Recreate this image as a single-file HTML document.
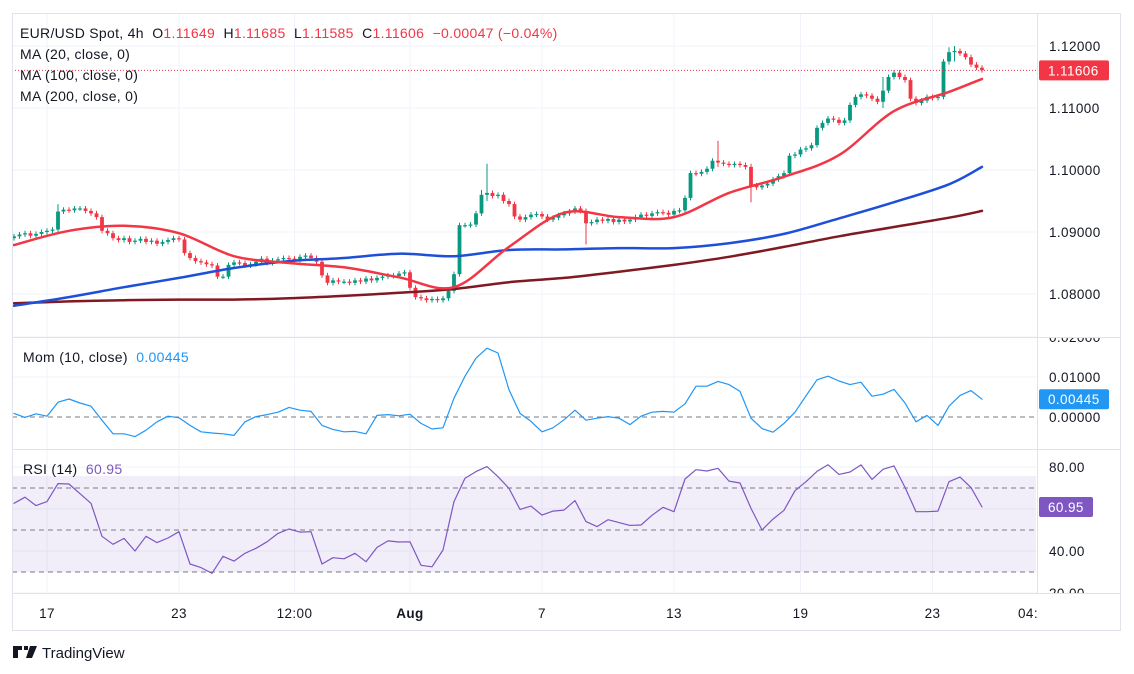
<!DOCTYPE html>
<html><head><meta charset="utf-8">
<style>
html,body{margin:0;padding:0;background:#fff;}
svg{display:block;font-family:"Liberation Sans",sans-serif;}
svg text{white-space:pre;}
.lg{font-size:14px;letter-spacing:0.3px;}
</style></head>
<body>
<svg id="chart" width="1134" height="674" viewBox="0 0 1134 674" xmlns="http://www.w3.org/2000/svg" xml:space="preserve">
  <rect x="0" y="0" width="1134" height="674" fill="#ffffff"/>
  <g id="grid"></g>
  <rect x="12" y="476" width="1024" height="96" fill="rgba(126,87,194,0.1)"/>
  <g id="main"></g>
  <g id="mom"></g>
  <g id="rsi"></g>
  <g id="axes"></g>
  <rect x="12.5" y="13.5" width="1108" height="617" fill="none" stroke="#e0e3eb"/>
  <line x1="1037.5" y1="13" x2="1037.5" y2="593" stroke="#e0e3eb"/>
  <line x1="12" y1="337.5" x2="1121" y2="337.5" stroke="#e0e3eb"/>
  <line x1="12" y1="449.5" x2="1121" y2="449.5" stroke="#e0e3eb"/>
  <line x1="12" y1="593.5" x2="1121" y2="593.5" stroke="#e0e3eb"/>
  <text class="lg" x="20" y="38" fill="#131722">EUR/USD Spot, 4h  O<tspan fill="#f23645">1.11649</tspan>  H<tspan fill="#f23645">1.11685</tspan>  L<tspan fill="#f23645">1.11585</tspan>  C<tspan fill="#f23645">1.11606</tspan>  <tspan fill="#f23645">−0.00047 (−0.04%)</tspan></text>
  <text class="lg" x="20" y="59" fill="#131722">MA (20, close, 0)</text>
  <text class="lg" x="20" y="80" fill="#131722">MA (100, close, 0)</text>
  <text class="lg" x="20" y="101" fill="#131722">MA (200, close, 0)</text>
  <text class="lg" x="23" y="362" fill="#131722">Mom (10, close)  <tspan fill="#2196f3">0.00445</tspan></text>
  <text class="lg" x="23" y="474" fill="#131722">RSI (14)  <tspan fill="#7e57c2">60.95</tspan></text>
  <g>
    <path d="M13 646h9v4h-4v8h-5z M24 646h4v4h-4z M30 646h7l-5 12h-6z" fill="#131722"/>
    <text x="42" y="658" font-size="15" fill="#131722">TradingView</text>
  </g>
</svg>
<script>
// ---------- data ----------
const closes = [1.0893,1.0896,1.0898,1.0894,1.0897,1.0900,1.0902,1.0904,1.0933,1.0936,
1.0935,1.0938,1.0938,1.0934,1.0930,1.0924,1.0902,1.0898,1.0890,1.0887,
1.0890,1.0884,1.0886,1.0889,1.0884,1.0886,1.0881,1.0884,1.0887,1.0890,
1.0888,1.0866,1.0858,1.0853,1.0851,1.0848,1.0846,1.0828,1.0828,1.0847,
1.0851,1.0850,1.0846,1.0848,1.0852,1.0857,1.0850,1.0854,1.0856,1.0858,
1.0857,1.0855,1.0860,1.0862,1.0858,1.0852,1.0830,1.0818,1.0822,1.0820,
1.0820,1.0818,1.0822,1.0820,1.0825,1.0822,1.0826,1.0828,1.0830,1.0829,
1.0833,1.0835,1.0810,1.0795,1.0793,1.0790,1.0792,1.0790,1.0793,1.0805,
1.0832,1.0911,1.0911,1.0912,1.0930,1.0960,1.0963,1.0958,1.0960,1.0950,
1.0945,1.0925,1.0920,1.0924,1.0928,1.0929,1.0925,1.0920,1.0923,1.0927,
1.0930,1.0933,1.0938,1.0934,1.0914,1.0916,1.0920,1.0918,1.0921,1.0916,
1.0920,1.0917,1.0920,1.0924,1.0928,1.0926,1.0930,1.0932,1.0931,1.0928,
1.0934,1.0935,1.0955,1.0995,1.0994,1.0997,1.1002,1.1015,1.1012,1.1010,
1.1008,1.1010,1.1008,1.1005,1.0975,1.0972,1.0975,1.0978,1.0985,1.0990,
1.0995,1.1023,1.1025,1.1033,1.1035,1.1040,1.1068,1.1076,1.1083,1.1081,
1.1076,1.1080,1.1105,1.1118,1.1122,1.1120,1.1115,1.1110,1.1128,1.1150,
1.1157,1.1150,1.1145,1.1115,1.1108,1.1112,1.1118,1.1116,1.1118,1.1175,
1.1190,1.1192,1.1188,1.1182,1.1170,1.1165,1.1161];
const firstOpen = 1.0890;
const wickSize = 0.0004;
const bigWickIdx = [8, 85, 86, 104, 128, 134, 146, 158, 170, 171];
const bigWickHigh = [1.0945, 1.0968, 1.1010, 1.0938, 1.1047, 1.1010, 1.1072, 1.1150, 1.1198, 1.1200];
const bigWickLow = [1.0900, 1.0930, 1.0950, 1.0880, 1.1005, 1.0948, 1.1040, 1.1100, 1.1170, 1.1175];

const maIdx = [0,10,20,30,40,50,60,70,80,90,100,110,120,130,140,150,160,170,176];
const ma20 = [1.0879,1.0902,1.0910,1.0898,1.0861,1.0850,1.0843,1.0827,1.0811,1.0876,1.0931,1.0924,1.0924,1.0963,1.0989,1.1024,1.1095,1.1126,1.1147];
const ma100 = [1.0781,1.0795,1.0811,1.0826,1.0842,1.0853,1.0858,1.0865,1.0861,1.0871,1.0872,1.0874,1.0874,1.0882,1.0897,1.0922,1.0948,1.0977,1.1005];
const ma200 = [1.0785,1.0788,1.0790,1.0791,1.0791,1.0793,1.0797,1.0802,1.0808,1.0819,1.0826,1.0836,1.0847,1.0860,1.0876,1.0893,1.0908,1.0923,1.0934];

const momStep = 2;
const mom = [9,-1,8,2,37,45,35,27,-8,-42,-42,-49,-33,-12,2,-2,-21,-37,-40,-42,
-46,-12,1,6,12,24,17,14,-21,-31,-37,-36,-42,4,6,3,7,-16,-30,-27,
47,102,147,172,160,68,9,-11,-37,-27,-7,17,-8,-3,1,-3,-19,2,12,14,
12,33,77,77,89,81,64,-3,-29,-38,-16,12,53,93,102,90,81,87,52,57,
69,35,-12,4,-21,27,54,66,44.5];
const rsi = [62.7,65.6,61.6,63.5,72.1,71.9,67.3,62.7,47.0,43.2,46.0,40.0,47.0,44.0,46.2,49.2,33.8,32.1,29.4,37.5,
35.2,38.9,41.3,44.4,48.4,50.5,49.0,49.2,33.8,36.8,36.3,38.9,34.9,41.7,44.8,44.3,44.4,33.2,32.5,40.5,
63.5,74.6,77.8,80.2,75.4,69.8,59.8,61.4,57.1,59.0,59.5,64.0,54.0,51.6,54.9,53.5,52.2,52.4,57.0,60.8,
58.7,74.3,78.7,78.1,79.4,73.3,72.4,60.3,50.0,55.2,59.4,68.7,73.0,77.9,81.1,76.5,77.6,81.0,74.1,78.9,
80.5,70.3,58.7,58.7,59.0,73.0,75.2,70.2,60.95];

const priceTicks = [1.12,1.11,1.10,1.09,1.08];
const priceTickLabels = ["1.12000","1.11000","1.10000","1.09000","1.08000"];
const momTicks = [0.02,0.01,0];
const momTickLabels = ["0.02000","0.01000","0.00000"];
const rsiTicks = [80,60,40,20];
const rsiTickLabels = ["80.00","","40.00","20.00"];
const timeIdx = [6,30,51,72,96,120,143,167];
const timeLabels = ["17","23","12:00","Aug","7","13","19","23"];
const lastPrice = 1.11606, lastMom = 0.00445, lastRsi = 60.95;

// ---------- scales ----------
const X0 = 14, DX = 5.5;
const xs = i => X0 + i*DX;
const yP = p => 46 + (1.12 - p)*6200;
const yM = v => 417 - v*4000;
const yR = v => 530 - (v-50)*2.1;
const NS = "http://www.w3.org/2000/svg";
function mk(tag, attrs, parent){ const e=document.createElementNS(NS,tag); for(const k in attrs) e.setAttribute(k,attrs[k]); parent.appendChild(e); return e; }

const grid = document.getElementById('grid');
timeIdx.forEach((ti)=>{
  const l = mk('line',{x1:xs(ti),x2:xs(ti),y1:13,y2:593,stroke:'#f0f3fa'},grid);
  
  
});
priceTicks.forEach(p=>{
  const l = mk('line',{x1:12,x2:1037,y1:yP(p),y2:yP(p),stroke:'#f0f3fa'},grid);
  
  
});
momTicks.slice(0,2).forEach(v=>{
  const l = mk('line',{x1:12,x2:1037,y1:yM(v),y2:yM(v),stroke:'#f0f3fa'},grid);
  
  
});
rsiTicks.forEach(v=>{
  const l = mk('line',{x1:12,x2:1037,y1:yR(v),y2:yR(v),stroke:'#f0f3fa'},grid);
  
  
});

// ---------- candles ----------
const main = document.getElementById('main');
closes.forEach((c,i)=>{
  const o = i===0 ? firstOpen : closes[i-1];
  let hi = Math.max(o,c)+wickSize, lo = Math.min(o,c)-wickSize;
  const bw = bigWickIdx.indexOf(i);
  if(bw>=0){ hi = Math.max(hi,bigWickHigh[bw]); lo = Math.min(lo,bigWickLow[bw]); }
  const col = c>=o ? '#089981' : '#f23645';
  const x = xs(i);
  const g = mk('g',{},main);
  
  
  mk('line',{x1:x,x2:x,y1:yP(hi),y2:yP(lo),stroke:col,'stroke-width':1},g);
  const top = yP(Math.max(o,c)), bot = yP(Math.min(o,c));
  mk('rect',{x:x-1.9,y:top,width:3.8,height:Math.max(1.2,bot-top),fill:col},g);
});
function line(parent, idxs, vals, yf, color, w, name){
  const pts = idxs.map((ix,k)=>xs(ix).toFixed(1)+','+yf(vals[k]).toFixed(1)).join(' ');
  const pl = mk('polyline',{points:pts,fill:'none',stroke:color,'stroke-width':w,'stroke-linejoin':'round','stroke-linecap':'round'},parent);
  
  
}
function smooth(parent, idxs, vals, yf, color, w, name){
  const P = idxs.map((ix,k)=>[xs(ix), yf(vals[k])]);
  let d = 'M'+P[0][0].toFixed(1)+','+P[0][1].toFixed(1);
  for(let i=0;i<P.length-1;i++){
    const p0=P[Math.max(0,i-1)], p1=P[i], p2=P[i+1], p3=P[Math.min(P.length-1,i+2)];
    const c1=[p1[0]+(p2[0]-p0[0])/6, p1[1]+(p2[1]-p0[1])/6];
    const c2=[p2[0]-(p3[0]-p1[0])/6, p2[1]-(p3[1]-p1[1])/6];
    d += ' C'+c1[0].toFixed(1)+','+c1[1].toFixed(1)+' '+c2[0].toFixed(1)+','+c2[1].toFixed(1)+' '+p2[0].toFixed(1)+','+p2[1].toFixed(1);
  }
  const p = mk('path',{d:d,fill:'none',stroke:color,'stroke-width':w,'stroke-linecap':'round'},parent);
  
  
}
smooth(main, maIdx, ma200, yP, '#801922', 2.5, 'ma200-line');
smooth(main, maIdx, ma100, yP, '#1e4fd8', 2.5, 'ma100-line');
smooth(main, maIdx, ma20, yP, '#f23645', 2.5, 'ma20-line');
const pl = mk('line',{x1:12,x2:1037,y1:yP(lastPrice),y2:yP(lastPrice),stroke:'#f23645','stroke-dasharray':'1 2'},main);



// ---------- momentum ----------
const momG = document.getElementById('mom');
const zl = mk('line',{x1:12,x2:1037,y1:yM(0),y2:yM(0),stroke:'#787b86','stroke-dasharray':'5 4'},momG);


line(momG, mom.map((_,k)=>k*momStep), mom.map(v=>v/10000), yM, '#2196f3', 1.2, 'momentum-line');

// ---------- RSI ----------
const rsiG = document.getElementById('rsi');
[70,50,30].forEach(v=>{
  const l = mk('line',{x1:12,x2:1037,y1:yR(v),y2:yR(v),stroke:'#787b86','stroke-dasharray':'5 4'},rsiG);
  
  
});
line(rsiG, rsi.map((_,k)=>k*momStep), rsi, yR, '#7e57c2', 1.2, 'rsi-line');

// ---------- axes ----------
const ax = document.getElementById('axes');
function label(x,y,txt,name,opts){
  const t = mk('text',Object.assign({x:x,y:y,'font-size':13.5,fill:'#131722','letter-spacing':0.4},opts||{}),ax);
  t.textContent = txt;
  
  
  return t;
}
priceTicks.forEach((p,k)=>label(1049,yP(p)+5,priceTickLabels[k],'price-tick-label'));
momTicks.forEach((v,k)=>label(1049,yM(v)+5,momTickLabels[k],'momentum-tick-label'));
rsiTicks.forEach((v,k)=>{ if(rsiTickLabels[k]) label(1049,yR(v)+5,rsiTickLabels[k],'rsi-tick-label'); });
const m1 = mk('rect',{x:1038,y:330,width:82,height:7,fill:'#fff'},ax);


const m2 = mk('rect',{x:1038,y:594,width:82,height:6,fill:'#fff'},ax);


timeIdx.forEach((ti,k)=>label(xs(ti),618,timeLabels[k],'time-tick-label',{'text-anchor':'middle','font-weight':timeLabels[k]==='Aug'?'bold':'normal'}));
label(1028,618,'04:','time-tick-label',{'text-anchor':'middle'});
function badge(y,txt,bg,w,name){
  const g = mk('g',{},ax);
  
  
  mk('rect',{x:1039,y:y-10,width:w,height:20,fill:bg,rx:2},g);
  const t = mk('text',{x:1048,y:y+5,'font-size':13.5,'letter-spacing':0.4,fill:'#fff'},g);
  t.textContent = txt;
}
badge(yP(lastPrice),'1.11606','#f23645',70,'last-price-badge');
badge(yM(lastMom),'0.00445','#2196f3',70,'momentum-value-badge');
badge(yR(lastRsi),'60.95','#7e57c2',54,'rsi-value-badge');
</script>
</body></html>
